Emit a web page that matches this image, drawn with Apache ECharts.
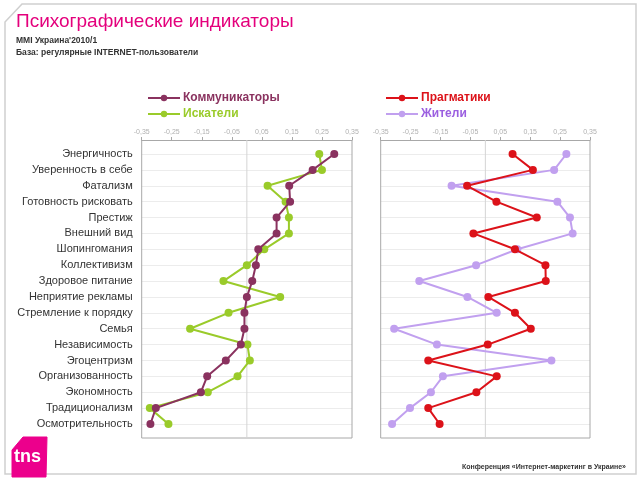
<!DOCTYPE html>
<html><head><meta charset="utf-8">
<script src="https://cdn.jsdelivr.net/npm/echarts@6/dist/echarts.min.js"></script>
<style>html,body{margin:0;padding:0;background:#fff}#c{width:640px;height:480px}</style>
</head><body><div id="c"></div>
<script>
const categories = ['Энергичность','Уверенность в себе','Фатализм','Готовность рисковать','Престиж','Внешний вид','Шопингомания','Коллективизм','Здоровое питание','Неприятие рекламы','Стремление к порядку','Семья','Независимость','Эгоцентризм','Организованность','Экономность','Традиционализм','Осмотрительность'];
const kommunikatory = [0.291,0.219,0.141,0.144,0.099,0.099,0.038,0.030,0.018,0.000,-0.008,-0.008,-0.020,-0.070,-0.132,-0.153,-0.303,-0.321];
const iskateli = [0.241,0.250,0.069,0.129,0.140,0.140,0.058,0.000,-0.078,0.111,-0.061,-0.189,0.002,0.010,-0.031,-0.130,-0.323,-0.261];
const pragmatiki = [0.091,0.159,-0.061,0.037,0.172,-0.040,0.099,0.201,0.202,0.010,0.099,0.152,0.008,-0.191,0.038,-0.030,-0.191,-0.153];
const zhiteli = [0.271,0.230,-0.113,0.241,0.283,0.292,0.107,-0.031,-0.221,-0.060,0.038,-0.305,-0.162,0.221,-0.142,-0.182,-0.252,-0.312];
const xMin = -0.35, xMax = 0.35, xStep = 0.1;

const C_KOM = '#8a325f', C_ISK = '#9acb2a', C_PRA = '#dc1219', C_ZHI = '#c1a0ef';
const FONT = 'Liberation Sans, Arial, sans-serif';

const chart = echarts.init(document.getElementById('c'), null, {renderer:'canvas'});

function xAx(gi){
  return {type:'value', gridIndex:gi, position:'top', offset:14, min:xMin, max:xMax, interval:xStep,
    axisLine:{show:true, lineStyle:{color:'#a8a8a8', width:1}},
    axisTick:{show:true, length:3, lineStyle:{color:'#a8a8a8'}},
    splitLine:{show:false},
    axisLabel:{fontSize:7, color:'#b0b0b0', margin:4, fontFamily:FONT,
      formatter:v=>(Math.round(v*100)/100).toFixed(2).replace('.',',')}};
}
function yAx(gi, showLabels){
  return {type:'category', gridIndex:gi, inverse:true, boundaryGap:false, data:categories,
    axisLine:{show:false}, axisTick:{show:false},
    splitLine:{show:true, lineStyle:{color:'#ececec', width:1}},
    axisLabel:{show:showLabels, fontSize:11, color:'#333', margin:9, fontFamily:FONT}};
}
function ser(name, data, color, gi, z){
  return {name, type:'line', data, xAxisIndex:gi, yAxisIndex:gi, z,
    symbol:'circle', symbolSize:8, showSymbol:true,
    lineStyle:{color, width:2}, itemStyle:{color}, emphasis:{disabled:true}, animation:false};
}

const G0 = {left:141.7, right:288, top:154, bottom:56};
const G1 = {left:380.7, right:50, top:154, bottom:56};

chart.setOption({
  animation:false,
  backgroundColor:'#fff',
  textStyle:{fontFamily:FONT},
  title:{text:'Психографические индикаторы', left:11, top:7,
    textStyle:{fontSize:19, color:'#e4007c', fontWeight:'normal', fontFamily:FONT}},
  grid:[G0, G1],
  xAxis:[xAx(0), xAx(1)],
  yAxis:[yAx(0,true), yAx(1,false)],
  legend:[
    {orient:'vertical', left:142, top:87, itemWidth:32, itemHeight:8, itemGap:4, selectedMode:false,
      data:[{name:'Коммуникаторы', textStyle:{color:C_KOM}},{name:'Искатели', textStyle:{color:C_ISK}}],
      textStyle:{fontSize:12, fontWeight:'bold', fontFamily:FONT, padding:[0,0,0,-2]}},
    {orient:'vertical', left:380, top:87, itemWidth:32, itemHeight:8, itemGap:4, selectedMode:false,
      data:[{name:'Прагматики', textStyle:{color:C_PRA}},{name:'Жители', textStyle:{color:'#9b5fe0'}}],
      textStyle:{fontSize:12, fontWeight:'bold', fontFamily:FONT, padding:[0,0,0,-2]}}
  ],
  series:[
    ser('Искатели', iskateli, C_ISK, 0, 2),
    ser('Коммуникаторы', kommunikatory, C_KOM, 0, 3),
    ser('Жители', zhiteli, C_ZHI, 1, 2),
    ser('Прагматики', pragmatiki, C_PRA, 1, 3)
  ]
});

function frameFor(gi){
  const xl = chart.convertToPixel({xAxisIndex:gi}, xMin);
  const xr = chart.convertToPixel({xAxisIndex:gi}, xMax);
  const x0 = chart.convertToPixel({xAxisIndex:gi}, 0);
  const yt = chart.convertToPixel({yAxisIndex:gi}, categories[0]) - 14;
  const yb = chart.convertToPixel({yAxisIndex:gi}, categories[categories.length-1]) + 14;
  return [
    {type:'polyline', shape:{points:[[xl,yt],[xl,yb],[xr,yb],[xr,yt]]}, style:{stroke:'#a8a8a8', lineWidth:1, fill:null}, z:1, silent:true},
    {type:'line', shape:{x1:x0, y1:yt, x2:x0, y2:yb}, style:{stroke:'#d4d4d4', lineWidth:1}, z:1, silent:true}
  ];
}

chart.setOption({graphic:[
  {type:'polygon', shape:{points:[[22,4],[636,4],[636,474],[5,474],[5,22]]}, style:{stroke:'#cfcfcf', lineWidth:1.5, fill:null}, silent:true},
  {type:'text', left:16, top:36, style:{text:"MMI Украина'2010/1", font:'bold 8.5px '+FONT, fill:'#333'}},
  {type:'text', left:16, top:48, style:{text:'База: регулярные INTERNET-пользователи', font:'bold 8.5px '+FONT, fill:'#333'}},
  {type:'polygon', shape:{points:[[23,437],[47,437],[46,477],[12,477],[12,450]]}, style:{fill:'#ec008c', stroke:'#ec008c', lineWidth:1, lineJoin:'round'}, silent:true},
  {type:'text', left:14, top:448, style:{text:'tns', font:'bold 18px '+FONT, fill:'#fff'}},
  {type:'text', left:462, top:464, style:{text:'Конференция «Интернет-маркетинг в Украине»', font:'bold 7px '+FONT, fill:'#333'}},
  ...frameFor(0), ...frameFor(1)
]});
</script></body></html>
